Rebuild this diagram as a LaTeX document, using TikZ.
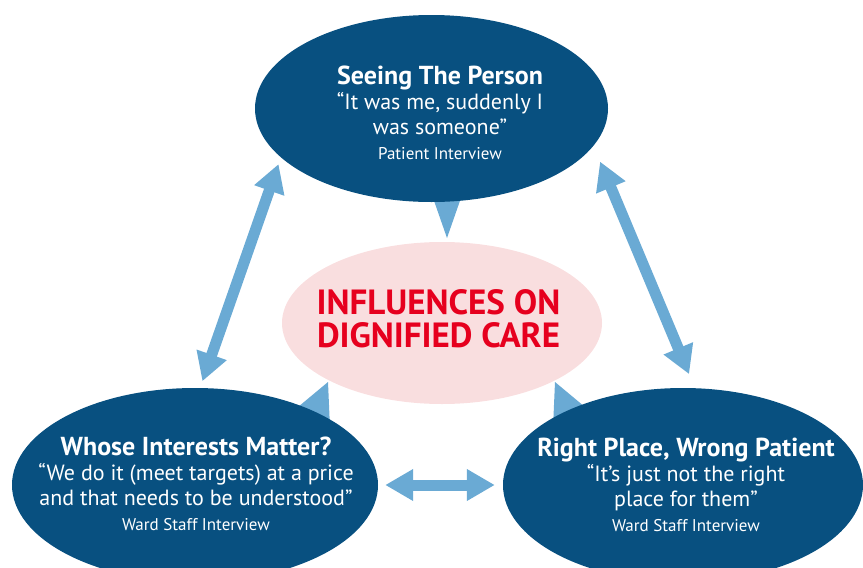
\documentclass[tikz,border=0pt]{standalone}
\usepackage{fontspec}
\setmainfont{PT Sans}
\usetikzlibrary{shapes.geometric,arrows.meta}
\definecolor{darkblue}{RGB}{8,80,128}
\definecolor{lightblue}{RGB}{106,170,212}
\definecolor{softpink}{RGB}{249,222,223}
\definecolor{titlered}{RGB}{230,0,30}
\tikzset{>={Triangle[length=28pt,width=30pt]}}
\tikzset{
  bubble/.style={ellipse,fill=darkblue,inner sep=0pt},
  quote/.style={align=center,text=white,font=\fontsize{22}{25}\selectfont},
  link/.style={<->,line width=11pt,draw=lightblue},
}
\newcommand{\heading}[1]{{\bfseries\fontsize{26}{25}\selectfont #1}}
\newcommand{\source}[1]{{\fontsize{17}{25}\selectfont #1}}

\begin{document}
\begin{tikzpicture}[x=1pt,y=-1pt]
  \useasboundingbox (0,0) rectangle (863,568);
  % centre
  \node[ellipse,fill=softpink,minimum width=320pt,minimum height=162pt] (centre) at (442,323) {};
  % pointers into the centre
  \fill[lightblue] (432,195) -- (462,195) -- (447,238) -- cycle;
  \fill[lightblue] (328,382) -- (292,412) -- (330,428) -- cycle;
  \fill[lightblue] (555,382) -- (591,412) -- (553,428) -- cycle;
  % the three themes
  \node[bubble,minimum width=353pt,minimum height=187pt] (person) at (431.5,108.5) {};
  \node[bubble,minimum width=366pt,minimum height=194pt] (interests) at (195,485) {};
  \node[bubble,minimum width=360pt,minimum height=194pt] (place) at (683,485) {};
  \draw[link,shorten <=7pt,shorten >=7pt] (interests.87) -- (person.198);
  \draw[link,shorten <=17pt,shorten >=15pt] (person.-13) -- (place.83);
  \draw[link,shorten <=7pt,shorten >=8pt] (interests.east) -- (place.west);
  \node[align=center,text=titlered,font=\bfseries\fontsize{35}{33}\selectfont] (title) at (438.5,319) {INFLUENCES ON\\DIGNIFIED CARE};
  \node[quote] (persontext) at (440,113) {\heading{Seeing The Person}\\“It was me, suddenly I\\was someone”\\\source{Patient Interview}};
  \node[quote] (intereststext) at (196,484) {\heading{Whose Interests Matter?}\\“We do it (meet targets) at a price\\and that needs to be understood”\\\source{Ward Staff Interview}};
  \node[quote] (placetext) at (686,485) {\heading{Right Place, Wrong Patient}\\“It’s just not the right\\place for them”\\\source{Ward Staff Interview}};
\end{tikzpicture}
\end{document}
